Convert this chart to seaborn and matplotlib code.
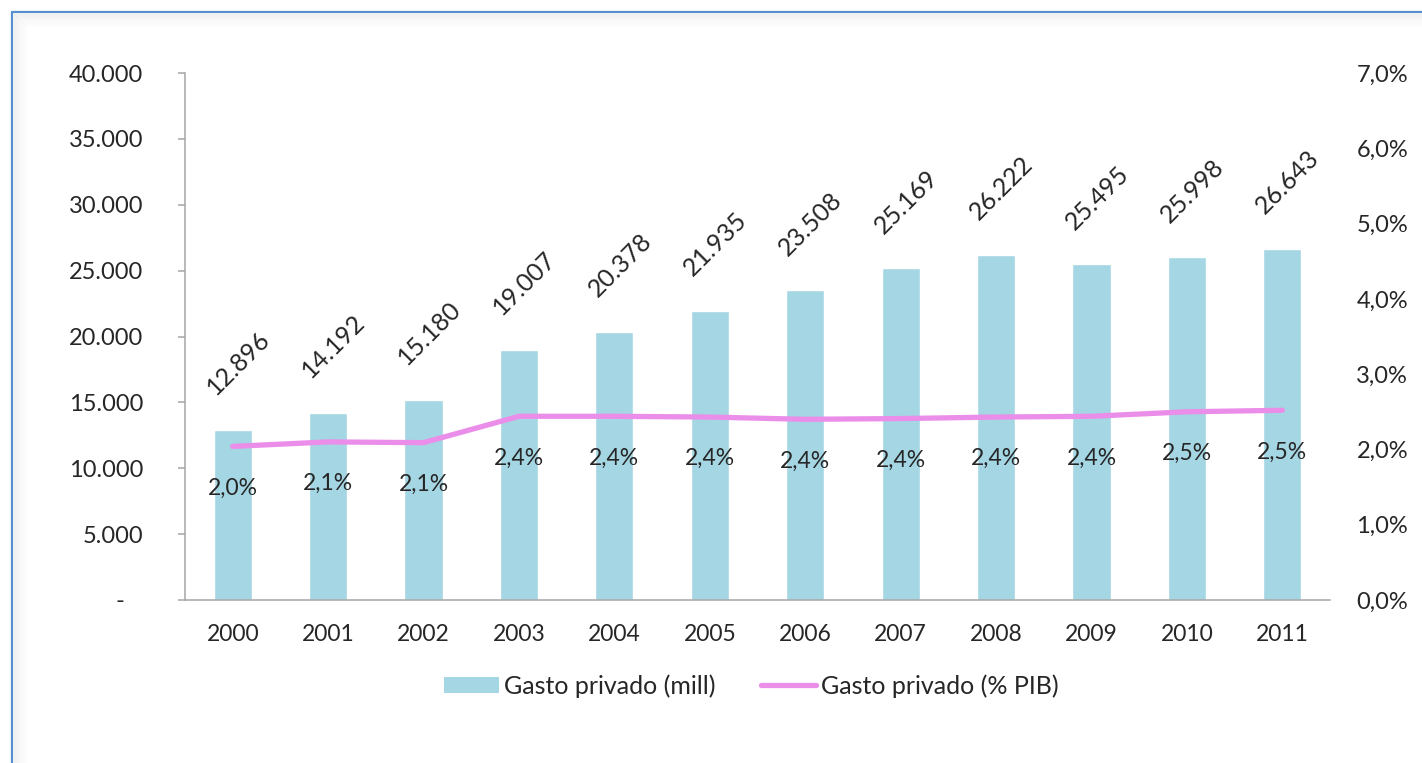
import numpy as np
import pandas as pd
import matplotlib
matplotlib.use("Agg")
import matplotlib.pyplot as plt
from matplotlib.lines import Line2D
from matplotlib.patches import Patch
import matplotlib.ticker as mticker
import seaborn as sns

years = ['2000', '2001', '2002', '2003', '2004', '2005', '2006', '2007', '2008', '2009', '2010', '2011']
gasto_mill = [12896, 14192, 15180, 19007, 20378, 21935, 23508, 25169, 26222, 25495, 25998, 26643]
gasto_pib = [2.04, 2.10, 2.09, 2.44, 2.44, 2.43, 2.40, 2.41, 2.43, 2.44, 2.50, 2.52]
bar_label = 'Gasto privado (mill)'
line_label = 'Gasto privado (% PIB)'

sns.set_style('white')
plt.rcParams['font.family'] = ['Lato', 'DejaVu Sans']
plt.rcParams['font.size'] = 16.5

W, H = 1422, 763
fig = plt.figure(figsize=(W / 100, H / 100), dpi=100)
fig.patch.set_facecolor('white')

# frame with slight shadow
for k in range(14):
    a = 0.05 * (1 - k / 14)
    fig.add_artist(Line2D([(14 + k) / W, 1], [1 - (14 + k) / H] * 2, color='black', alpha=a, lw=0.8))
    fig.add_artist(Line2D([(14 + k) / W] * 2, [0, 1 - (14 + k) / H], color='black', alpha=a, lw=0.8))
frame_c = '#5B8FCB'
fig.add_artist(Line2D([12 / W, 1], [1 - 12 / H] * 2, color=frame_c, lw=1.6))
fig.add_artist(Line2D([12 / W] * 2, [0, 1 - 12 / H], color=frame_c, lw=1.6))

ax = fig.add_axes([185 / W, 1 - 600 / H, 1145 / W, 527 / H])
ax.set_facecolor('none')
bar_color = '#A5D6E3'
line_color = '#EA8EEA'
df = pd.DataFrame({'year': years, 'mill': gasto_mill, 'pib': gasto_pib})
sns.barplot(data=df, x='year', y='mill', color=bar_color, saturation=1, width=0.4, ax=ax)
ax.set_xlim(-0.5, len(years) - 0.5)
ax.set_ylim(0, 40000)
ax.set_yticks(np.arange(0, 40001, 5000))
ax.yaxis.set_major_formatter(mticker.FuncFormatter(
    lambda v, p: '-   ' if v == 0 else f"{int(v):,}".replace(',', '.')))
ax.set_xlabel('')
ax.set_ylabel('')
spine_c = '#A6A6A6'
for s in ['top', 'right']:
    ax.spines[s].set_visible(False)
for s in ['left', 'bottom']:
    ax.spines[s].set_color(spine_c)
    ax.spines[s].set_linewidth(1.1)
ax.tick_params(axis='y', which='major', direction='out', length=5, width=1.1, color=spine_c, pad=25, labelsize=17)
ax.tick_params(axis='x', which='major', length=0, pad=17, labelsize=16.5)
ax.set_xticks(np.arange(-0.5, len(years), 1), minor=True)
ax.tick_params(axis='x', which='minor', direction='out', length=6, width=1.1, color=spine_c)

for i, v in enumerate(gasto_mill):
    ax.annotate(f"{v:,}".replace(',', '.'), (i, v), xytext=(4, 48), textcoords='offset points',
                rotation=45, ha='center', va='center', fontsize=18)

ax2 = ax.twinx()
sns.lineplot(x=np.arange(len(years)), y=gasto_pib, ax=ax2, color=line_color, linewidth=3.8,
             solid_capstyle='round')
ax2.set_ylim(0, 7)
ax2.set_yticks(np.arange(0, 7.01, 1))
ax2.yaxis.set_major_formatter(mticker.FuncFormatter(lambda v, p: f"{v:.1f}%".replace('.', ',')))
for s in ['top', 'right', 'left', 'bottom']:
    ax2.spines[s].set_visible(False)
ax2.tick_params(axis='y', length=0, pad=19, labelsize=17)
ax2.set_ylabel('')
for i, v in enumerate(gasto_pib):
    ax2.annotate(f"{v:.1f}%".replace('.', ','), (i, v), xytext=(0, -30), textcoords='offset points',
                 ha='center', va='center', fontsize=16.5)

handles = [Patch(facecolor=bar_color, edgecolor='none'),
           Line2D([0], [0], color=line_color, lw=3.8, solid_capstyle='round')]
fig.legend(handles, [bar_label, line_label], loc='center', bbox_to_anchor=(0.5285, 0.101),
           ncol=2, frameon=False, fontsize=18, handlelength=2.2, handleheight=0.6,
           handletextpad=0.2, columnspacing=1.8)

fig.savefig('out.png', dpi=100, facecolor='white')
